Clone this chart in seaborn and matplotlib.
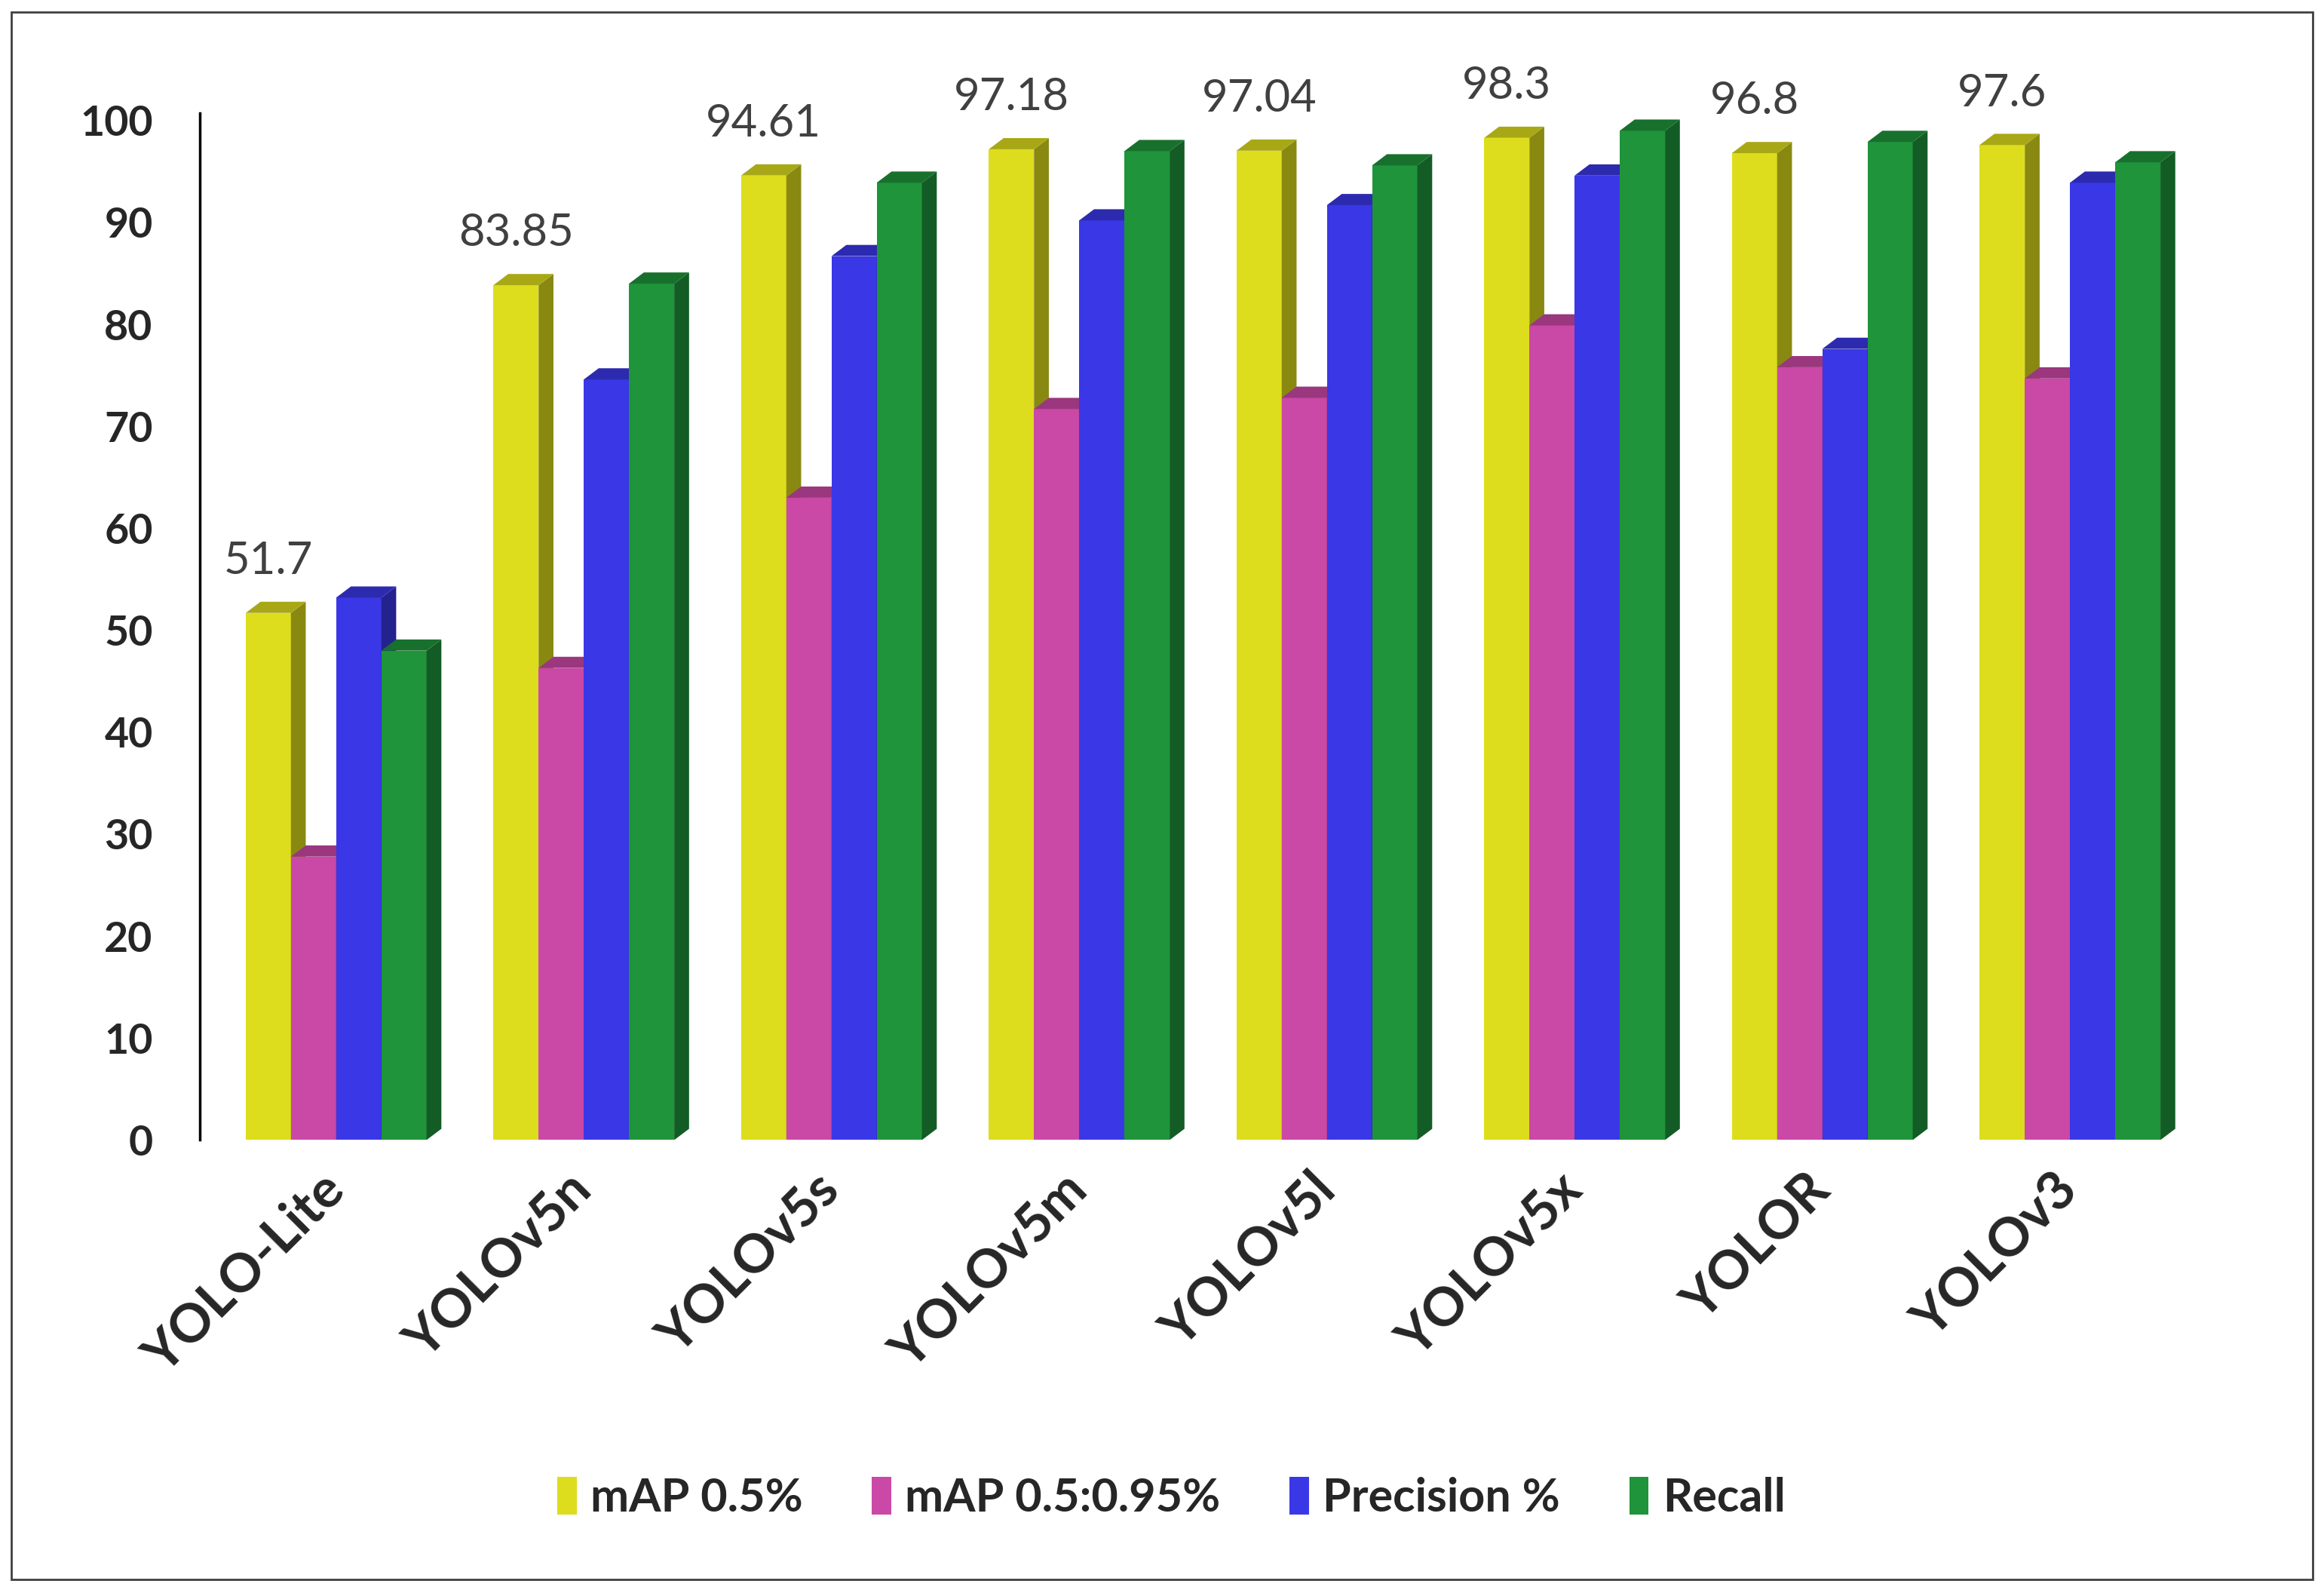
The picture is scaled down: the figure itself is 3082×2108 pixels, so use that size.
import numpy as np
import pandas as pd
import matplotlib.pyplot as plt
from matplotlib.patches import Polygon, Patch, Rectangle
from matplotlib.colors import to_rgb
import seaborn as sns

# Values
models = ["YOLO-Lite", "YOLOv5n", "YOLOv5s", "YOLOv5m", "YOLOv5l", "YOLOv5x", "YOLOR", "YOLOv3"]
map50 = [51.7, 83.85, 94.61, 97.18, 97.04, 98.3, 96.8, 97.6]
map5095 = [27.8, 46.3, 63.0, 71.7, 72.8, 79.9, 75.8, 74.7]
precision = [53.2, 74.6, 86.7, 90.2, 91.7, 94.6, 77.6, 93.9]
recall = [48.0, 84.0, 93.9, 97.0, 95.6, 99.0, 97.9, 95.9]
metrics = ["mAP 0.5%", "mAP 0.5:0.95%", "Precision %", "Recall"]
colors = ["#DDDD1D", "#CA48A6", "#3A37E6", "#1F943B"]

df = pd.DataFrame({
    "Model": models * 4,
    "Metric": np.repeat(metrics, len(models)),
    "Value": map50 + map5095 + precision + recall,
})

sns.set_style("white")
plt.rcParams["font.family"] = ["Lato", "DejaVu Sans"]
FS = 40

fig = plt.figure(figsize=(30.82, 21.08), dpi=100)
ax = fig.add_axes([0.086, 0.283, 0.858, 0.646])
sns.barplot(data=df, x="Model", y="Value", hue="Metric", palette=colors,
            width=0.73, saturation=1, legend=False, ax=ax, edgecolor="none")


def shade(c, f):
    return tuple(v * f for v in to_rgb(c))


# fake 3D: side and top faces built from each bar's geometry
dx, dy = 0.06, 1.1
for j, cont in enumerate(ax.containers):
    for bar in cont:
        bar.set_zorder(3 + j)
        x0, w, h = bar.get_x(), bar.get_width(), bar.get_height()
        x1 = x0 + w
        ax.add_patch(Polygon([(x1, 0), (x1 + dx, dy), (x1 + dx, h + dy), (x1, h)],
                             facecolor=shade(colors[j], 0.62), edgecolor="none", zorder=3.5 + j))
        ax.add_patch(Polygon([(x0, h), (x0 + dx, h + dy), (x1 + dx, h + dy), (x1, h)],
                             facecolor=shade(colors[j], 0.76), edgecolor="none", zorder=3.5 + j))

ax.bar_label(ax.containers[0], fmt="%g", padding=30, fontsize=43, color="#404040")

ax.set_xlim(-0.55, 7.5)
ax.set_ylim(0, 100.75)
ax.set_yticks(range(0, 101, 10))
ax.set_xticks(range(len(models)))
ax.set_xticklabels(models, rotation=45, ha="right", va="center",
                   rotation_mode="anchor", fontsize=51, fontweight="bold")
ax.tick_params(axis="y", length=0, pad=45, labelsize=FS)
ax.tick_params(axis="x", length=0, pad=40)
for t in ax.get_yticklabels():
    t.set_fontweight("bold")
ax.set_xlabel("")
ax.set_ylabel("")
sns.despine(ax=ax, bottom=True)
ax.spines["left"].set_linewidth(2.5)
ax.spines["left"].set_color("black")

handles = [Patch(facecolor=c, edgecolor="none") for c in colors]
fig.legend(handles, metrics, loc="center", bbox_to_anchor=(0.504, 0.058), ncol=4,
           frameon=False, prop={"weight": "bold", "size": 44}, handlelength=0.42,
           handleheight=0.9, handletextpad=0.3, columnspacing=1.5)

fig.patches.append(Rectangle((0.005, 0.0065), 0.99, 0.986, transform=fig.transFigure,
                             fill=False, edgecolor="#404040", linewidth=2))

fig.savefig("out.png", dpi=100)
